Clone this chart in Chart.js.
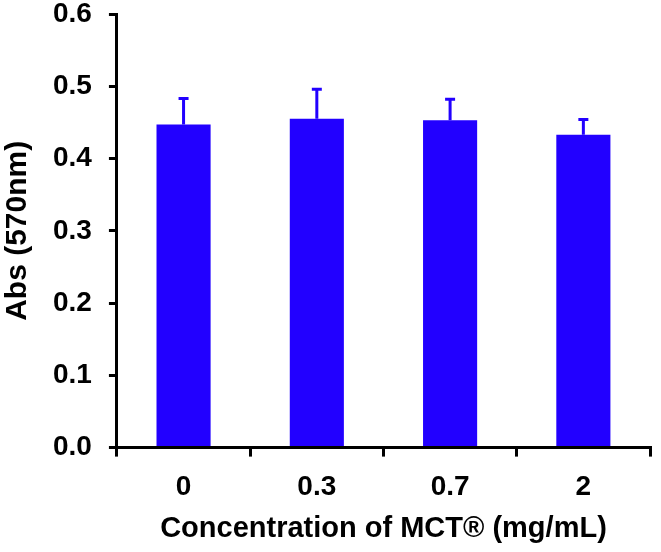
<!DOCTYPE html>
<html>
<head>
<meta charset="utf-8">
<script src="https://cdn.jsdelivr.net/npm/chart.js@4/dist/chart.umd.min.js"></script>
<style>
html,body{margin:0;padding:0;background:#fff;}
#wrap{width:661px;height:552px;}
</style>
</head>
<body>
<div id="wrap"><canvas id="c" width="661" height="552"></canvas></div>
<script>
const categories = ['0', '0.3', '0.7', '2'];
const absValues = [0.447, 0.455, 0.453, 0.433];
const errValues = [0.036, 0.041, 0.029, 0.021];
const yTicks = [0.0, 0.1, 0.2, 0.3, 0.4, 0.5, 0.6];

const BLUE = '#2200ff';
const FONT = "'Liberation Sans', Arial, sans-serif";

const errorBars = {
  id: 'errorBars',
  afterDatasetsDraw(chart) {
    const ctx = chart.ctx;
    const meta = chart.getDatasetMeta(0);
    const y = chart.scales.y;
    ctx.save();
    ctx.strokeStyle = BLUE;
    ctx.lineWidth = 3;
    meta.data.forEach((bar, i) => {
      const top = y.getPixelForValue(absValues[i] + errValues[i]);
      const base = y.getPixelForValue(absValues[i]);
      ctx.beginPath();
      ctx.moveTo(bar.x, base);
      ctx.lineTo(bar.x, top);
      ctx.moveTo(bar.x - 5, top);
      ctx.lineTo(bar.x + 5, top);
      ctx.stroke();
    });
    ctx.restore();
  }
};

new Chart(document.getElementById('c'), {
  type: 'bar',
  data: {
    labels: categories,
    datasets: [{
      data: absValues,
      backgroundColor: BLUE,
      borderWidth: 0,
      barPercentage: 0.406,
      categoryPercentage: 1.0
    }]
  },
  options: {
    responsive: false,
    animation: false,
    devicePixelRatio: 1,
    layout: { padding: { top: 1, right: 11, left: 0, bottom: 6 } },
    plugins: { legend: { display: false }, tooltip: { enabled: false } },
    scales: {
      x: {
        offset: true,
        grid: { display: true, drawOnChartArea: false, offset: true, color: '#000', lineWidth: 3, tickLength: 9 },
        border: { display: true, color: '#000', width: 3 },
        ticks: { color: '#000', font: { family: FONT, size: 28, weight: 'bold' }, padding: 14 },
        title: { display: true, text: 'Concentration of MCT® (mg/mL)', color: '#000', font: { family: FONT, size: 29, weight: 'bold' }, padding: { top: -7, bottom: 0 } }
      },
      y: {
        min: 0, max: 0.6,
        afterBuildTicks(scale) { scale.ticks = yTicks.map(v => ({ value: v })); },
        afterFit(scale) { scale.paddingTop = 14; scale.paddingBottom = 14; },
        grid: { display: true, drawOnChartArea: false, color: '#000', lineWidth: 3, tickLength: 8 },
        border: { display: true, color: '#000', width: 3 },
        ticks: { color: '#000', font: { family: FONT, size: 28, weight: 'bold', lineHeight: 1 }, padding: 17, callback: v => Number(v).toFixed(1) },
        title: { display: true, text: 'Abs (570nm)', color: '#000', font: { family: FONT, size: 30, weight: 'bold' }, padding: { top: 0, bottom: 0 } }
      }
    }
  },
  plugins: [errorBars]
});
</script>
</body>
</html>
